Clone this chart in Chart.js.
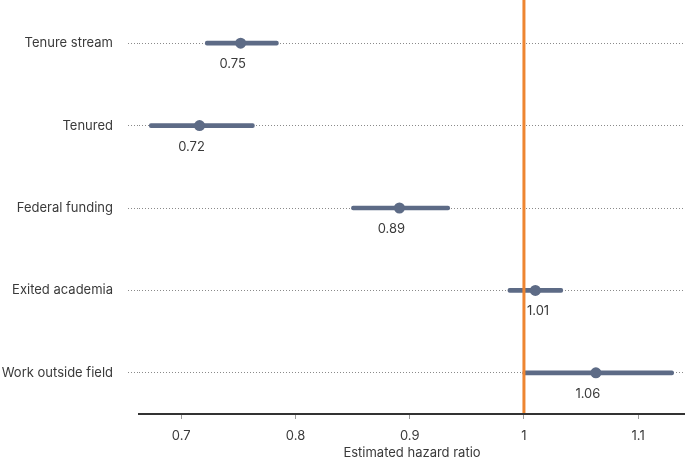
<!DOCTYPE html>
<html>
<head>
<meta charset="utf-8">
<script src="https://cdn.jsdelivr.net/npm/chart.js@4"></script>
<style>
html,body{margin:0;padding:0;background:#fff;}
#wrap{width:685px;height:461px;}
</style>
</head>
<body>
<div id="wrap"><canvas id="c" width="685" height="461"></canvas></div>
<script>
const categories = ['Tenure stream', 'Tenured', 'Federal funding', 'Exited academia', 'Work outside field'];
const estimates = [0.752, 0.716, 0.891, 1.010, 1.063];
const lower = [0.721, 0.672, 0.849, 0.986, 0.999];
const upper = [0.785, 0.764, 0.935, 1.034, 1.131];
const xTicks = [0.7, 0.8, 0.9, 1, 1.1];
const referenceValue = 1;

const FONT = 'Inter, "Noto Sans", sans-serif';
const TEXT = '#3a3a3a';
const MARK = '#5d6b86';
const ORANGE = '#ee8531';

const overlay = {
  id: 'overlay',
  afterDatasetsDraw(chart) {
    const ctx = chart.ctx;
    const xs = chart.scales.x, ys = chart.scales.y;
    const rx = xs.getPixelForValue(referenceValue);
    ctx.save();
    ctx.strokeStyle = ORANGE;
    ctx.lineWidth = 3;
    ctx.beginPath();
    ctx.moveTo(rx, 0);
    ctx.lineTo(rx, chart.chartArea.bottom - 1);
    ctx.stroke();
    ctx.fillStyle = TEXT;
    ctx.font = '13px ' + FONT;
    ctx.textAlign = 'center';
    ctx.textBaseline = 'middle';
    estimates.forEach((v, i) => {
      const txt = v.toFixed(2);
      const w = ctx.measureText(txt).width;
      const px = xs.getPixelForValue(v);
      const py = ys.getPixelForValue(i);
      let cx = px - 8;
      // keep the label clear of the reference line
      if (cx - w / 2 < rx + 3 && cx + w / 2 > rx - 3) cx = rx + 3 + w / 2;
      ctx.fillText(txt, cx, py + 21);
    });
    ctx.restore();
  }
};

new Chart(document.getElementById('c'), {
  type: 'bar',
  data: {
    labels: categories,
    datasets: [
      {
        type: 'bar',
        indexAxis: 'y',
        data: lower.map((l, i) => [l, upper[i]]),
        backgroundColor: MARK,
        barThickness: 4,
        borderSkipped: false,
        borderRadius: 2,
        order: 2
      },
      {
        type: 'line',
        indexAxis: 'y',
        data: estimates,
        showLine: false,
        pointRadius: 5.5,
        pointHoverRadius: 5.5,
        pointBackgroundColor: MARK,
        pointBorderWidth: 0,
        order: 1
      }
    ]
  },
  options: {
    indexAxis: 'y',
    responsive: false,
    animation: false,
    devicePixelRatio: 1,
    layout: { autoPadding: false, padding: { top: 2, right: 0, left: 0, bottom: 0 } },
    plugins: { legend: { display: false }, tooltip: { enabled: false } },
    scales: {
      x: {
        type: 'linear',
        min: 0.663,
        max: 1.141,
        afterBuildTicks(scale) { scale.ticks = xTicks.map(v => ({ value: v })); },
        afterFit(scale) { scale.height = 47; scale.paddingLeft = 0; scale.paddingRight = 0; },
        border: { display: true, color: '#333333', width: 2 },
        grid: { drawOnChartArea: false, drawTicks: true, tickLength: 5, tickColor: '#9a9a9a', tickWidth: 1 },
        ticks: {
          padding: 9,
          color: TEXT,
          font: { family: FONT, size: 13 },
          callback: v => String(v)
        },
        title: {
          display: true,
          text: 'Estimated hazard ratio',
          color: TEXT,
          font: { family: FONT, size: 13 },
          padding: { top: 2, bottom: 0 }
        }
      },
      y: {
        type: 'category',
        offset: true,
        afterFit(scale) { scale.width = 139; scale.paddingTop = 0; scale.paddingBottom = 0; },
        border: { display: false, dash: [1, 2] },
        grid: {
          drawOnChartArea: true,
          drawTicks: true,
          tickLength: 11,
          color: '#8a8a8a',
          lineWidth: 1,
          tickColor: '#8a8a8a',
          tickWidth: 1,
          tickBorderDash: [1, 2],
          offset: false
        },
        ticks: {
          padding: 15,
          color: TEXT,
          font: { family: FONT, size: 13 }
        }
      }
    }
  },
  plugins: [overlay]
});
</script>
</body>
</html>
